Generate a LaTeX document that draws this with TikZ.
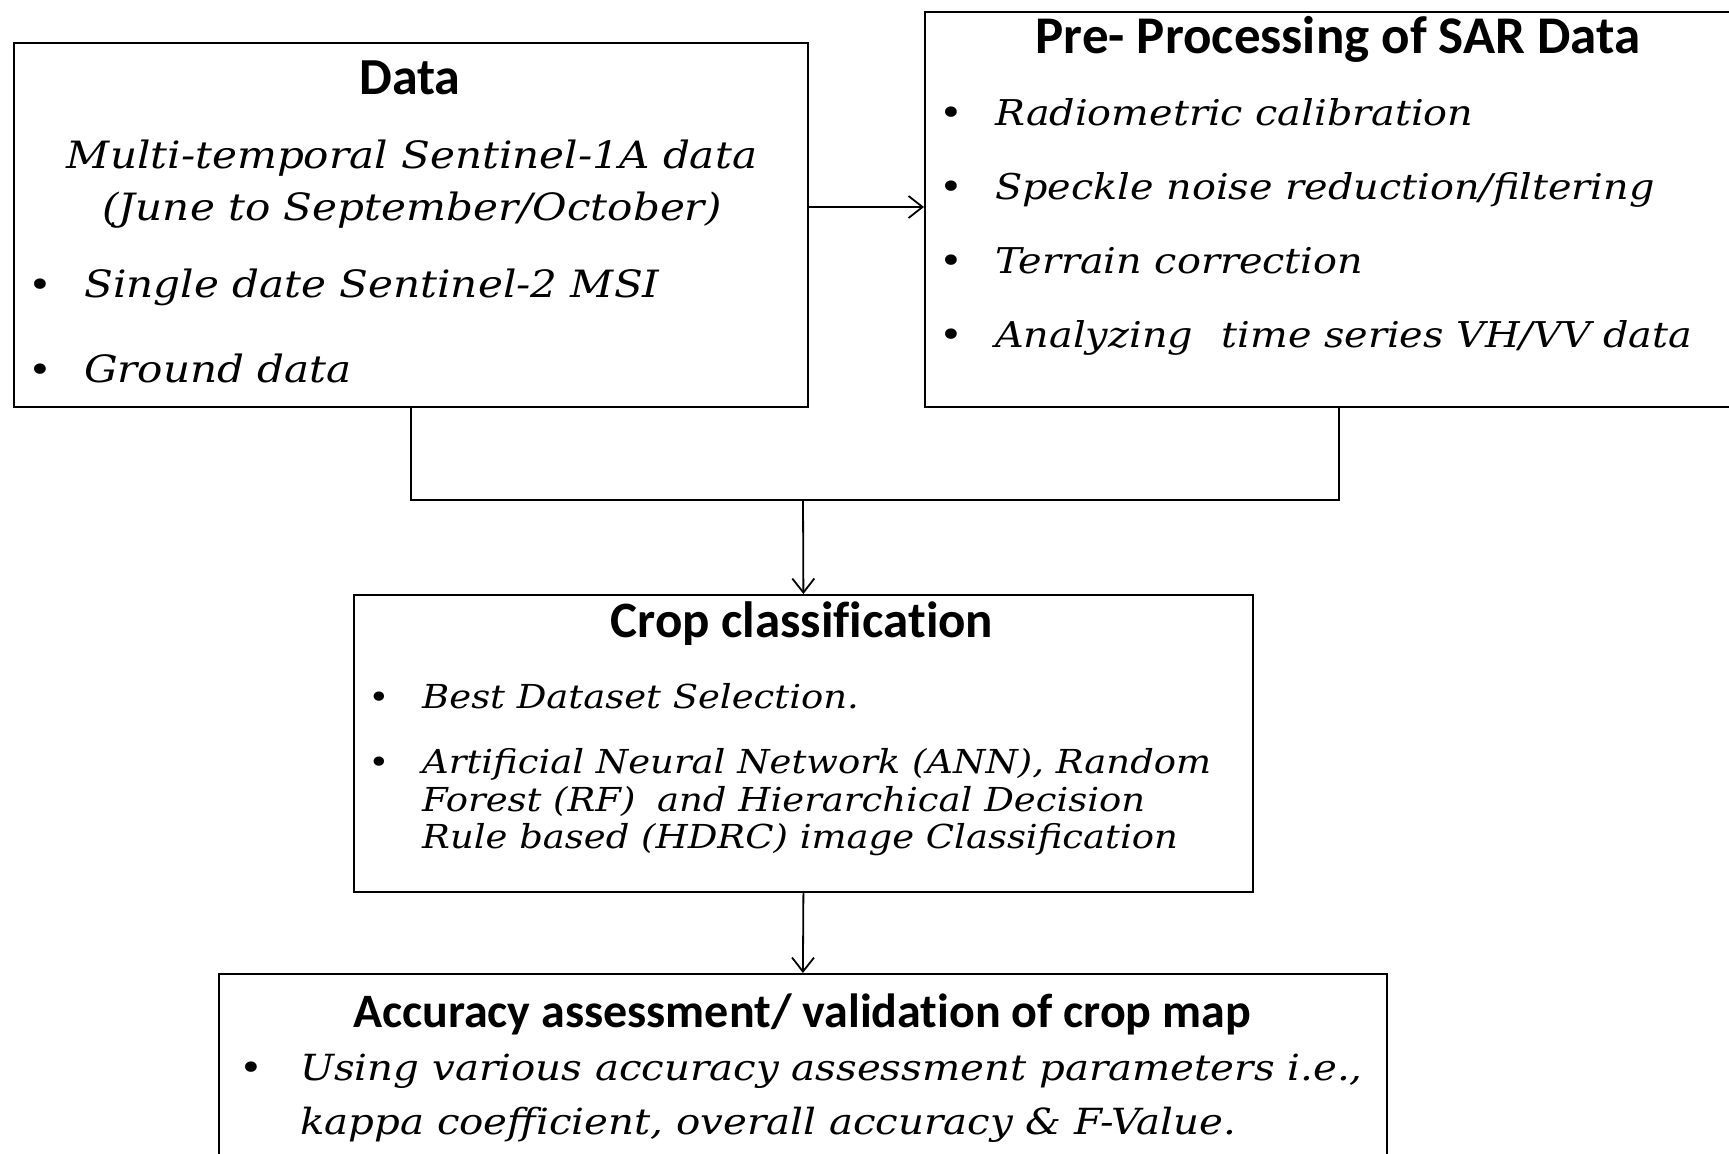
\documentclass[tikz,border=0pt]{standalone}
\usepackage{fontspec}
\usetikzlibrary{arrows.meta}
\newfontfamily\headfont[Ligatures=NoCommon]{Carlito}
\newfontfamily\bodyfont[FakeStretch=1.12]{DejaVu Serif}

\tikzset{
  box/.style={draw, line width=1.8bp, rectangle, inner sep=0pt, anchor=north west},
  wire/.style={line width=1.8bp},
  flow/.style={line width=1.8bp, -{Straight Barb[length=14bp, width=22bp, line width=1.8bp]}},
  head/.style={inner sep=0pt, anchor=base, font=\headfont\bfseries\fontsize{#1bp}{#1bp}\selectfont},
  body/.style={inner sep=0pt, anchor=base west, font=\bodyfont\itshape\fontsize{#1bp}{#1bp}\selectfont},
  bodyc/.style={inner sep=0pt, anchor=base, font=\bodyfont\itshape\fontsize{#1bp}{#1bp}\selectfont},
  dot/.style={inner sep=0pt, anchor=base, font=\bodyfont\fontsize{#1bp}{#1bp}\selectfont},
}

\begin{document}
\begin{tikzpicture}[x=1bp, y=-1bp]
  \useasboundingbox (0,0) rectangle (1729,1153);

  % boxes
  \node[box, minimum width=794bp, minimum height=364bp] (data) at (13,42) {};
  \node[box, minimum width=830bp, minimum height=395bp] (pre) at (924,11) {};
  \node[box, minimum width=899bp, minimum height=297bp] (crop) at (353,594) {};
  \node[box, minimum width=1168bp, minimum height=220bp] (acc) at (218,973) {};

  % Data box
  \node[head=52] (dataH) at (410,94) {Data};
  \node[bodyc=37.6] (d1) at (412,168) {Multi-temporal Sentinel-1A data};
  \node[bodyc=37.6] (d2) at (412,220) {(June to September/October)};
  \node[dot=36] (db1) at (40,297) {•};
  \node[body=37.6] (d3) at (84,297) {Single date Sentinel-2 MSI};
  \node[dot=36] (db2) at (40,382) {•};
  \node[body=37.6] (d4) at (84,382) {Ground data};

  % Pre-processing box
  \node[head=53] (preH) at (1338,53) {Pre- Processing of SAR Data};
  \node[dot=36] (pb1) at (951,125) {•};
  \node[body=35.5] (p1) at (995,125) {Radiometric calibration};
  \node[dot=36] (pb2) at (951,199) {•};
  \node[body=35.5] (p2) at (995,199) {Speckle noise reduction/filtering};
  \node[dot=36] (pb3) at (951,273) {•};
  \node[body=35.5] (p3) at (995,273) {Terrain correction};
  \node[dot=36] (pb4) at (951,347) {•};
  \node[body=35.5] (p4) at (995,347) {Analyzing\hspace{0.45em} time series VH/VV data};

  % Crop classification box
  \node[head=51] (cropH) at (802,637) {Crop classification};
  \node[dot=32] (cb1) at (379,708) {•};
  \node[body=33] (c1) at (422,708) {Best Dataset Selection.};
  \node[dot=32] (cb2) at (379,773) {•};
  \node[body=33] (c2) at (422,773) {Artificial Neural Network (ANN), Random};
  \node[body=33] (c3) at (422,811) {Forest (RF)\hspace{0.3em} and Hierarchical Decision};
  \node[body=33] (c4) at (422,848) {Rule based (HDRC) image Classification};

  % Accuracy box
  \node[head=48] (accH) at (802,1027) {Accuracy assessment/ validation of crop map};
  \node[dot=36] (ab1) at (251,1080) {•};
  \node[body=36] (a1) at (300,1080) {Using various accuracy assessment parameters i.e.,};
  \node[body=36] (a2) at (300,1134) {kappa coefficient, overall accuracy \& F-Value.};

  % connectors
  \coordinate (dataOut) at (807,207);
  \draw[flow] (dataOut) -- (dataOut -| pre.west);
  \coordinate (preOut) at (1339,406);
  \coordinate (join) at (803,500);
  \draw[wire] (data.south) |- (preOut |- join) -- (preOut);
  \draw[flow] (join) -- (crop.north);
  \draw[flow] (crop.south) -- (acc.north);
\end{tikzpicture}
\end{document}
